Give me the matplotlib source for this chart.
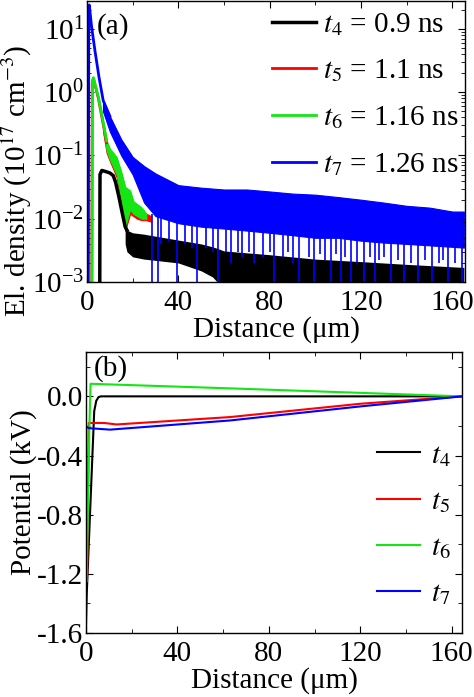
import numpy as np
import matplotlib
matplotlib.use('Agg')
import matplotlib.pyplot as plt
from matplotlib.ticker import MultipleLocator, LogLocator, NullFormatter

plt.rcParams['font.family'] = ['Liberation Serif', 'DejaVu Serif']
plt.rcParams['mathtext.fontset'] = 'stix'
plt.rcParams['font.size'] = 20

# ---- panel (a): electron density (1e17 cm^-3) ----
# smooth peak parts (lines)
blue_peak_x = [0.6, 0.8, 1.0, 2.0, 3.5, 5.3, 7.1, 10.0]
blue_peak_y = [1e-3, 22, 24, 11, 4.5, 1.7, 0.74, 0.42]
# noisy part drawn as band (upper / lower envelope)
blue_band_x = [7, 10, 15, 20, 25, 30, 40, 50, 60, 70, 80, 90, 100, 110,
               120, 130, 140, 150, 160, 165]
blue_upper = [0.74, 0.42, 0.18, 0.095, 0.068, 0.052, 0.034, 0.031, 0.029,
              0.029, 0.027, 0.025, 0.024, 0.022, 0.020, 0.018, 0.016, 0.015,
              0.013, 0.013]
blue_lower = [0.5, 0.24, 0.1, 0.05, 0.018, 0.011, 0.0085, 0.0075, 0.007,
              0.0065, 0.006, 0.0055, 0.005, 0.005, 0.0045, 0.0042, 0.004,
              0.0038, 0.0036, 0.0035]
# downward spikes of the blue trace (x, lowest value)
blue_spike_x = [28.5, 31, 32.5, 36, 39.5, 43, 46, 48, 52, 55, 57.5, 61, 63,
                66, 68, 71, 73, 77, 80, 82, 86, 88, 90, 93, 97, 99.5, 102, 104,
                107, 109, 111, 113, 115.5, 118, 121.5, 124, 126, 128, 130,
                133, 136, 139, 142, 145, 148, 151, 154, 156, 158, 161, 164]
blue_spike_low = [1e-3, 1e-3, 0.004, 0.0045, 1e-3, 0.004, 0.0035, 1e-3,
                  0.0035, 0.003, 1e-3, 0.003, 0.002, 0.003, 0.0025, 0.003,
                  0.002, 0.0025, 0.003, 1e-3, 0.0025, 0.003, 0.002, 1e-3,
                  0.0025, 1e-3, 0.0028, 0.0022, 1e-3, 0.0028, 1e-3, 0.0025,
                  1e-3, 0.002, 1e-3, 0.0025, 1e-3, 0.0022, 0.0025, 1e-3,
                  0.0022, 1e-3, 0.002, 1e-3, 0.0022, 1e-3, 0.002, 0.0022,
                  1e-3, 0.002, 1e-3]

green_peak_x = [2.2, 2.4, 2.8, 5.0, 7.2, 8.6]
green_peak_y = [1e-3, 1.5, 1.7, 0.83, 0.32, 0.17]
green_band_x = [7.2, 8.6, 10.1, 11.6, 13.0, 15.2, 16.7, 18.9, 20.3, 22, 24, 26]
green_upper = [0.32, 0.17, 0.127, 0.11, 0.094, 0.052, 0.032, 0.028, 0.019,
               0.017, 0.015, 0.012]
green_lower = [0.25, 0.12, 0.085, 0.065, 0.05, 0.019, 0.0075, 0.014, 0.012,
               0.011, 0.010, 0.010]

red_peak_x = [2.1, 2.3, 2.8, 5.0, 7.2, 8.6]
red_peak_y = [1e-3, 1.4, 1.65, 0.8, 0.3, 0.16]
red_band_x = [7.2, 8.6, 10.1, 11.6, 13.0, 15.2, 16.7, 18.9, 20.3, 22, 24, 26, 28]
red_upper = [0.3, 0.16, 0.12, 0.1, 0.088, 0.05, 0.03, 0.026, 0.018, 0.016,
             0.014, 0.012, 0.011]
red_lower = [0.22, 0.11, 0.08, 0.06, 0.045, 0.016, 0.0065, 0.012, 0.011,
             0.010, 0.0095, 0.0095, 0.009]

black_peak_x = [5.6, 5.7, 6.5, 8, 10, 11.5, 12.5, 14, 15.5, 16.7, 17.5]
black_peak_y = [1e-3, 0.05, 0.058, 0.056, 0.053, 0.048, 0.038, 0.022, 0.012,
                0.0075, 0.0066]
black_band_x = [16.7, 17.5, 20, 25, 30, 40, 50, 55, 57, 60, 80, 100, 120,
                140, 165]
black_upper = [0.0075, 0.0066, 0.006, 0.0057, 0.0053, 0.0046, 0.004, 0.0036,
               0.0034, 0.0031, 0.0027, 0.0023, 0.0021, 0.0019, 0.0017]
black_lower = [0.004, 0.003, 0.0025, 0.0023, 0.0022, 0.002, 0.0015, 0.0012,
               0.001, 0.001, 0.001, 0.001, 0.001, 0.001, 0.001]

legend_a = [r'$t_4$ = 0.9 ns', r'$t_5$ = 1.1 ns', r'$t_6$ = 1.16 ns',
            r'$t_7$ = 1.26 ns']

# ---- panel (b): potential (kV) ----
pot_black_x = [0.0, 0.3, 3.6, 4.5, 5.5, 6.5, 164.5]
pot_black_y = [-1.55, -1.35, -0.1, -0.03, -0.005, 0.0, 0.0]
pot_red_x = [0.5, 1.2, 8, 13.4, 63, 120, 164.5]
pot_red_y = [-1.2, -0.18, -0.18, -0.19, -0.14, -0.05, 0.0]
pot_green_x = [0.3, 1.5, 2.0, 63, 164.5]
pot_green_y = [-1.25, -0.2, 0.085, 0.054, 0.0]
pot_blue_x = [0.0, 0.0, 1.3, 10.5, 63, 120, 164.5]
pot_blue_y = [-1.6, -0.205, -0.215, -0.225, -0.163, -0.068, 0.0]
legend_b = [r'$t_4$', r'$t_5$', r'$t_6$', r'$t_7$']

c_black, c_red, c_green, c_blue = '#000000', '#ff0000', '#14e614', '#0000ff'

fig = plt.figure(figsize=(4.74, 6.97), dpi=100)
ax1 = fig.add_axes([0.1835, 0.5954, 0.7975, 0.4036])
ax2 = fig.add_axes([0.1814, 0.0918, 0.7933, 0.4032])

# panel (a)
l4, = ax1.plot(black_peak_x, black_peak_y, color=c_black, lw=2.5)
ax1.fill_between(black_band_x, black_lower, black_upper, color=c_black, lw=0)
ax1.fill_between(blue_band_x, blue_lower, blue_upper, color=c_blue, lw=0.8,
                 edgecolor=c_blue)
ax1.vlines(blue_spike_x, blue_spike_low, 0.012, color=c_blue, lw=1.2)
l7, = ax1.plot(blue_peak_x, blue_peak_y, color=c_blue, lw=2)
ax1.fill_between(red_band_x, red_lower, red_upper, color=c_red, lw=0.8,
                 edgecolor=c_red)
l5, = ax1.plot(red_peak_x, red_peak_y, color=c_red, lw=2)
ax1.fill_between(green_band_x, green_lower, green_upper, color=c_green,
                 lw=0.8, edgecolor=c_green)
l6, = ax1.plot(green_peak_x, green_peak_y, color=c_green, lw=2)

ax1.set_yscale('log')
ax1.set_xlim(0, 165.5)
ax1.set_ylim(1e-3, 28)
ax1.xaxis.set_major_locator(MultipleLocator(40))
ax1.xaxis.set_minor_locator(MultipleLocator(20))
ax1.yaxis.set_major_locator(LogLocator(base=10, numticks=10))
ax1.yaxis.set_minor_locator(LogLocator(base=10, subs=np.arange(2, 10), numticks=10))
ax1.yaxis.set_minor_formatter(NullFormatter())
ax1.set_xlabel('Distance (μm)', labelpad=0, fontsize=21)
ax1.set_ylabel(r'El. density (10$^{17}$ cm$^{-3}$)', fontsize=21)
ax1.yaxis.set_label_coords(-0.14, 0.36)
ax1.text(0.025, 0.955, '(a)', transform=ax1.transAxes, ha='left', va='top',
         fontsize=21)
ax1.legend([l4, l5, l6, l7], legend_a, loc='upper right', frameon=False,
           handlelength=1.5, handletextpad=0.25, labelspacing=0.68,
           borderaxespad=0.0, borderpad=0.35, fontsize=21,
           bbox_to_anchor=(1.01, 1.0))

# panel (b)
p4, = ax2.plot(pot_black_x, pot_black_y, color=c_black, lw=1.5)
p5, = ax2.plot(pot_red_x, pot_red_y, color=c_red, lw=1.5)
p6, = ax2.plot(pot_green_x, pot_green_y, color=c_green, lw=1.5)
p7, = ax2.plot(pot_blue_x, pot_blue_y, color=c_blue, lw=1.5)
ax2.set_xlim(0, 164.5)
ax2.set_ylim(-1.6, 0.3)
ax2.xaxis.set_major_locator(MultipleLocator(40))
ax2.xaxis.set_minor_locator(MultipleLocator(20))
ax2.yaxis.set_major_locator(MultipleLocator(0.4))
ax2.yaxis.set_minor_locator(MultipleLocator(0.2))
ax2.yaxis.set_major_formatter(matplotlib.ticker.FuncFormatter(
    lambda v, p: '%.1f' % v))
ax2.set_xlabel('Distance (μm)', labelpad=0, fontsize=21)
ax2.set_ylabel('Potential (kV)', labelpad=0, fontsize=21)
ax2.text(0.02, 0.99, '(b)', transform=ax2.transAxes, ha='left', va='top',
         fontsize=21)
ax2.legend([p4, p5, p6, p7], legend_b, loc='center right', frameon=False,
           handlelength=1.5, handletextpad=0.35, labelspacing=0.68,
           borderaxespad=0.0, fontsize=21, bbox_to_anchor=(1.0, 0.385))

for ax in (ax1, ax2):
    ax.tick_params(which='both', direction='in', top=True, right=True,
                   labelsize=21)
    ax.tick_params(axis='x', which='major', pad=6)
    ax.tick_params(axis='y', which='major', pad=2)
    ax.tick_params(which='major', length=5)
    ax.tick_params(which='minor', length=3)
    for s in ax.spines.values():
        s.set_linewidth(1.0)

plt.savefig('out.png', dpi=100)
